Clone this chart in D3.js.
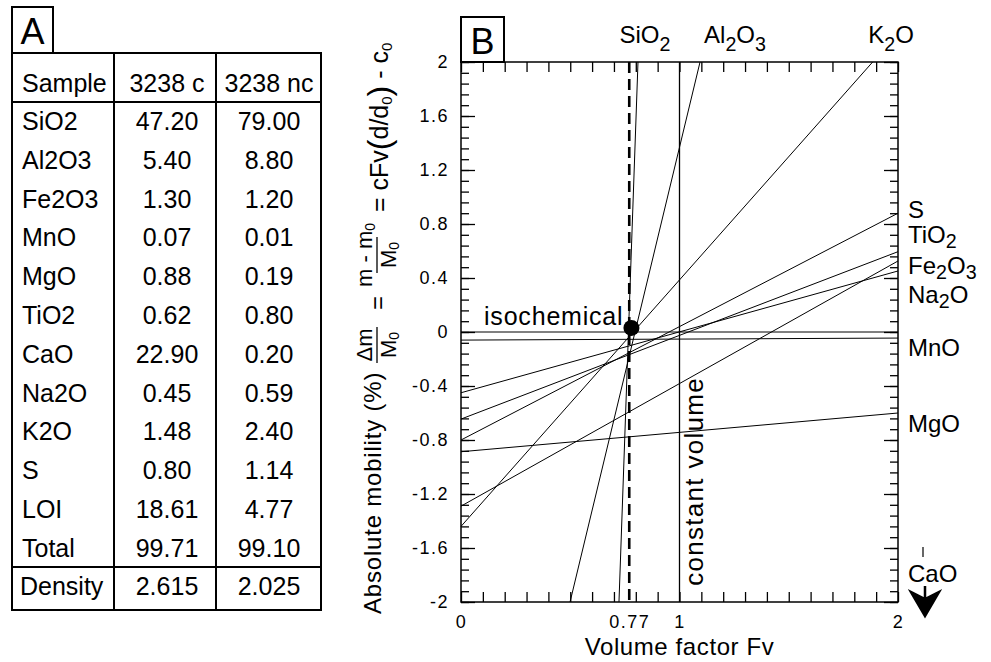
<!DOCTYPE html>
<html>
<head>
<meta charset="utf-8">
<script src="https://cdn.jsdelivr.net/npm/d3@7"></script>
<style>
body { margin: 0; background: #fff; }
svg { display: block; font-family: "Liberation Sans", Arial, Helvetica, sans-serif; }
</style>
</head>
<body>
<div id="chart-area"></div>
<script>
// *********************
// Data
// *********************

// Table A
const sampleNames = ["3238 c", "3238 nc"];
const oxides = ["SiO2", "Al2O3", "Fe2O3", "MnO", "MgO", "TiO2", "CaO", "Na2O", "K2O", "S", "LOI", "Total"];
const valuesC = ["47.20", "5.40", "1.30", "0.07", "0.88", "0.62", "22.90", "0.45", "1.48", "0.80", "18.61", "99.71"];
const valuesNc = ["79.00", "8.80", "1.20", "0.01", "0.19", "0.80", "0.20", "0.59", "2.40", "1.14", "4.77", "99.10"];
const densities = ["2.615", "2.025"];

// Plot B: each line read as two points [Fv, absolute mobility]
const lineNames = ["SiO2", "Al2O3", "K2O", "S", "TiO2", "Fe2O3", "Na2O", "MnO", "MgO", "zero"];
const lineStart = [[0.723, -2], [0.499, -2], [0, -1.44], [0, -0.80], [0, -0.645], [0, -1.29], [0, -0.45], [0, -0.06], [0, -0.887], [0, 0]];
const lineEnd = [[0.810, 2], [1.094, 2], [1.884, 2], [2, 0.88], [2, 0.595], [2, 0.526], [2, 0.452], [2, -0.045], [2, -0.60], [2, 0]];

const isoFv = 0.77;          // dashed line, "0.77"
const isoPoint = [0.78, 0.03];
const constantFv = 1;

const xLabelTicks = [0, 0.77, 1, 2];
const yLabelTicks = [2, 1.6, 1.2, 0.8, 0.4, 0, -0.4, -0.8, -1.2, -1.6, -2];

// *********************
// SVG
// *********************
const width = 991;
const height = 662;

const svg = d3.select("#chart-area")
	.append("svg")
	.attr("width", width)
	.attr("height", height);

svg.append("rect")
	.attr("width", width)
	.attr("height", height)
	.attr("fill", "white");

// writes chemical formulas with lowered digits
function chem(text, str, shift) {
	const parts = str.split(/(\d+)/).filter(s => s.length);
	let down = false;
	parts.forEach(p => {
		const isNum = /^\d+$/.test(p);
		const t = text.append("tspan").text(p);
		if (isNum && !down) { t.attr("dy", shift).attr("font-size", "0.82em"); down = true; }
		else if (!isNum && down) { t.attr("dy", -shift); down = false; }
		else if (isNum) t.attr("font-size", "0.82em");
	});
	return text;
}

// *********************
// Table A
// *********************
const tab = {left: 12, right: 321, c1: 114, c2: 216, top: 53, head: 102, total: 567, bottom: 610};
const tableFont = 25;

const A = svg.append("g").attr("class", "table");

A.append("rect")
	.attr("x", 12).attr("y", 7).attr("width", 41).attr("height", 46)
	.attr("fill", "none").attr("stroke", "black").attr("stroke-width", 2);
A.append("text")
	.attr("x", 32.5).attr("y", 44)
	.attr("text-anchor", "middle")
	.attr("font-size", 36)
	.text("A");

A.append("rect")
	.attr("x", tab.left).attr("y", tab.top)
	.attr("width", tab.right - tab.left).attr("height", tab.bottom - tab.top)
	.attr("fill", "none").attr("stroke", "black").attr("stroke-width", 2);

[tab.head, tab.total].forEach(yy => A.append("line")
	.attr("x1", tab.left).attr("x2", tab.right).attr("y1", yy).attr("y2", yy)
	.attr("stroke", "black").attr("stroke-width", 2));
[tab.c1, tab.c2].forEach(xx => A.append("line")
	.attr("x1", xx).attr("x2", xx).attr("y1", tab.top).attr("y2", tab.bottom)
	.attr("stroke", "black").attr("stroke-width", 2));

const rowY = d3.scalePoint().domain(oxides).range([130, 556.7]);
const colX = d3.scalePoint().domain(sampleNames).range([167, 269]);

A.append("text").attr("x", 22).attr("y", 92).attr("font-size", tableFont).text("Sample");
A.selectAll(".head").data(sampleNames).join("text")
	.attr("x", d => colX(d)).attr("y", 92)
	.attr("text-anchor", "middle").attr("font-size", tableFont)
	.text(d => d);

A.selectAll(".ox").data(oxides).join("text")
	.attr("x", 22).attr("y", d => rowY(d))
	.attr("font-size", tableFont)
	.text(d => d);

[valuesC, valuesNc].forEach((vals, j) => {
	A.selectAll(".v" + j).data(vals).join("text")
		.attr("x", colX(sampleNames[j]))
		.attr("y", (d, i) => rowY(oxides[i]))
		.attr("text-anchor", "middle").attr("font-size", tableFont)
		.text(d => d);
});

A.append("text").attr("x", 20).attr("y", 595).attr("font-size", tableFont).text("Density");
A.selectAll(".dens").data(densities).join("text")
	.attr("x", (d, i) => colX(sampleNames[i])).attr("y", 595)
	.attr("text-anchor", "middle").attr("font-size", tableFont)
	.text(d => d);

// *********************
// Plot B scales
// *********************
const x = d3.scaleLinear().domain([0, 2]).range([461, 898]);
const y = d3.scaleLinear().domain([-2, 2]).range([602, 62]);

const B = svg.append("g").attr("class", "plot");

const fmt = d => (d === 0 ? "0" : String(+d.toFixed(2)));

function styleAxis(g) {
	g.select(".domain").remove();
	g.selectAll("line").attr("stroke", "black").attr("stroke-width", 1.3);
	g.selectAll("text").attr("fill", "black")
		.attr("font-family", "Liberation Sans, Arial, sans-serif")
		.attr("font-size", 18).attr("letter-spacing", 1.5);
}

const yMinor = d3.range(-2, 2.0001, 0.08).map(d => +d.toFixed(2));
const xMinor = d3.range(0, 2.0001, 0.1).map(d => +d.toFixed(2));

// left axis
B.append("g").attr("transform", `translate(${x(0)},0)`)
	.call(d3.axisLeft(y).tickValues(yMinor).tickSize(-8).tickFormat(""))
	.call(styleAxis);
B.append("g").attr("transform", `translate(${x(0)},0)`)
	.call(d3.axisLeft(y).tickValues(yLabelTicks).tickSize(-14).tickPadding(12).tickFormat(fmt))
	.call(styleAxis);

// right axis
B.append("g").attr("transform", `translate(${x(2)},0)`)
	.call(d3.axisRight(y).tickValues(yMinor).tickSize(-8).tickFormat(""))
	.call(styleAxis);
B.append("g").attr("transform", `translate(${x(2)},0)`)
	.call(d3.axisRight(y).tickValues(yLabelTicks).tickSize(-14).tickFormat(""))
	.call(styleAxis);

// top & bottom axes
B.append("g").attr("transform", `translate(0,${y(2)})`)
	.call(d3.axisTop(x).tickValues(xMinor).tickSize(-10).tickFormat(""))
	.call(styleAxis);
B.append("g").attr("transform", `translate(0,${y(-2)})`)
	.call(d3.axisBottom(x).tickValues(xMinor).tickSize(-10).tickFormat(""))
	.call(styleAxis);
B.append("g").attr("transform", `translate(0,${y(-2)})`)
	.call(d3.axisBottom(x).tickValues(xLabelTicks).tickSize(0).tickPadding(13).tickFormat(fmt))
	.call(styleAxis);

// frame
B.append("rect")
	.attr("x", x(0)).attr("y", y(2))
	.attr("width", x(2) - x(0)).attr("height", y(-2) - y(2))
	.attr("fill", "none").attr("stroke", "black").attr("stroke-width", 1.5);

// "B" box
B.append("rect")
	.attr("x", x(0)).attr("y", 17).attr("width", 43).attr("height", y(2) - 17)
	.attr("fill", "none").attr("stroke", "black").attr("stroke-width", 2);
B.append("text")
	.attr("x", x(0) + 21.5).attr("y", 54)
	.attr("text-anchor", "middle").attr("font-size", 36)
	.text("B");

// constant volume & isochemical Fv lines
B.append("line")
	.attr("x1", x(constantFv)).attr("x2", x(constantFv))
	.attr("y1", y(2)).attr("y2", y(-2))
	.attr("stroke", "black").attr("stroke-width", 1.3);
B.append("line")
	.attr("x1", x(isoFv)).attr("x2", x(isoFv))
	.attr("y1", y(2)).attr("y2", y(-2))
	.attr("stroke", "black").attr("stroke-width", 2.6)
	.attr("stroke-dasharray", "11,6");

// element lines
B.selectAll(".el").data(lineNames).join("line")
	.attr("class", "el")
	.attr("x1", (d, i) => x(lineStart[i][0])).attr("y1", (d, i) => y(lineStart[i][1]))
	.attr("x2", (d, i) => x(lineEnd[i][0])).attr("y2", (d, i) => y(lineEnd[i][1]))
	.attr("stroke", "black").attr("stroke-width", 1);

// isochemical point
B.append("circle")
	.attr("cx", x(isoPoint[0])).attr("cy", y(isoPoint[1]))
	.attr("r", 8).attr("fill", "black");
B.append("text")
	.attr("x", x(isoPoint[0]) - 8).attr("y", y(isoPoint[1]) - 3)
	.attr("text-anchor", "end").attr("font-size", 25).attr("letter-spacing", 0.8)
	.text("isochemical");

// constant volume label
B.append("text")
	.attr("transform", `translate(${x(constantFv) + 23},${y(-1.88)}) rotate(-90)`)
	.attr("font-size", 26).attr("letter-spacing", 1.3)
	.text("constant volume");

// element labels
const labelFont = 24;
const topLabels = [["SiO2", 645], ["Al2O3", 735], ["K2O", 891]];
topLabels.forEach(([n, cx]) => chem(B.append("text")
	.attr("x", cx).attr("y", 43).attr("text-anchor", "middle")
	.attr("font-size", labelFont), n, 8));

const rightLabels = [["S", 218], ["TiO2", 243], ["Fe2O3", 274], ["Na2O", 303], ["MnO", 356], ["MgO", 432], ["CaO", 582]];
rightLabels.forEach(([n, yy]) => chem(B.append("text")
	.attr("x", x(2) + 10).attr("y", yy)
	.attr("font-size", labelFont), n, 5));

// CaO off-scale arrow
B.append("line").attr("x1", 923).attr("x2", 923).attr("y1", 547).attr("y2", 557)
	.attr("stroke", "black").attr("stroke-width", 1.2);
B.append("path")
	.attr("d", "M925,586 L925,600 M911,592 L925,616 L939,592 L925,599 Z")
	.attr("fill", "black").attr("stroke", "black").attr("stroke-width", 2.5);

// x axis label
B.append("text")
	.attr("x", x(1)).attr("y", 655)
	.attr("text-anchor", "middle").attr("font-size", 24).attr("letter-spacing", 0.6)
	.text("Volume factor Fv");

// *********************
// Y axis label with formula (rotated)
// *********************
const yl = B.append("g").attr("transform", "rotate(-90)");
// local (u, w) -> screen (w, -u)
yl.append("text").attr("x", -614).attr("y", 381).attr("font-size", 24).attr("letter-spacing", 0.8)
	.text("Absolute mobility (%)");

function frac(cy, num, den) {
	const n = yl.append("text").attr("x", -cy).attr("y", 372).attr("text-anchor", "middle").attr("font-size", 22);
	num(n);
	yl.append("line").attr("x1", -cy - 18).attr("x2", -cy + 18).attr("y1", 377).attr("y2", 377)
		.attr("stroke", "black").attr("stroke-width", 1.3);
	const d = yl.append("text").attr("x", -cy).attr("y", 396).attr("text-anchor", "middle").attr("font-size", 22);
	den(d);
}
frac(345, t => { t.append("tspan").text("Δ"); t.append("tspan").text("m"); },
	t => { t.append("tspan").text("M"); t.append("tspan").attr("font-size", 14).attr("dy", 3).text("0"); });
yl.append("text").attr("x", -303).attr("y", 386).attr("text-anchor", "middle").attr("font-size", 24).text("=");
frac(255, t => { t.append("tspan").text("m - m"); t.append("tspan").attr("font-size", 14).attr("dy", 3).text("0"); },
	t => { t.append("tspan").text("M"); t.append("tspan").attr("font-size", 14).attr("dy", 3).text("0"); });
const rhs = yl.append("text").attr("x", -212).attr("y", 388).attr("font-size", 25);
rhs.append("tspan").text("= cFv");
rhs.append("tspan").attr("font-size", 32).attr("dy", 2).text("(");
rhs.append("tspan").attr("dy", -2).text("d/d");
rhs.append("tspan").attr("font-size", 15).attr("dy", 4).text("0");
rhs.append("tspan").attr("font-size", 32).attr("dy", -2).text(")");
rhs.append("tspan").attr("dy", -2).text(" - c");
rhs.append("tspan").attr("font-size", 15).attr("dy", 4).text("0");
</script>
</body>
</html>
